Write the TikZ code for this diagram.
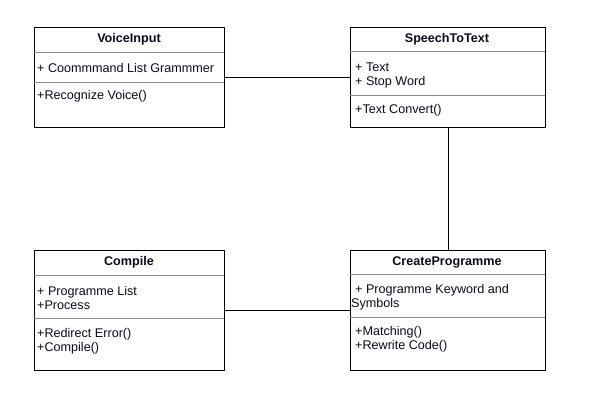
\documentclass[tikz,border=0pt]{standalone}
\usepackage{fontspec}
\setmainfont{Liberation Sans}
\usepackage{xcolor}
\usetikzlibrary{positioning, calc}
\definecolor{sepgray}{RGB}{140, 140, 140}
\definecolor{textink}{RGB}{10, 10, 30}

\tikzset{
    classbox/.style={draw=black, line width=1pt, inner sep=0pt, anchor=north west},
    classname/.style={font=\fontsize{12.6}{14}\selectfont\bfseries, text=textink},
    member/.style={anchor=west, align=left, inner sep=0pt, font=\fontsize{12.6}{14}\selectfont, text=textink},
    sepline/.style={draw=sepgray, line width=0.8pt},
    link/.style={draw=black, line width=0.8pt}
}

\begin{document}
\begin{tikzpicture}[x=1pt, y=-1pt]
    \useasboundingbox (0,0) rectangle (602,400);

    % VoiceInput
    \node[classbox, minimum width=190pt, minimum height=100pt] (voice) at (34,27) {};
    \node[classname] (voicet) at (129,39) {VoiceInput};
    \draw[sepline] (34,52) -- (224,52);
    \draw[sepline] (34,82) -- (224,82);
    \node[member] (voicea) at (37,68) {+ Coommmand List Grammmer};
    \node[member] (voicem) at (37,96) {+Recognize Voice()};

    % SpeechToText
    \node[classbox, minimum width=195pt, minimum height=100pt] (speech) at (350,27) {};
    \node[classname] (speecht) at (447,39) {SpeechToText};
    \draw[sepline] (350,51) -- (545,51);
    \draw[sepline] (350,95) -- (545,95);
    \node[member] (speecha) at (355,75) {+ Text\\+ Stop Word};
    \node[member] (speechm) at (355,110) {+Text Convert()};

    % Compile
    \node[classbox, minimum width=190pt, minimum height=120pt] (compile) at (34,250) {};
    \node[classname] (compilet) at (129,262) {Compile};
    \draw[sepline] (34,275) -- (224,275);
    \draw[sepline] (34,318) -- (224,318);
    \node[member] (compilea) at (37,298) {+ Programme List\\+Process};
    \node[member] (compilem) at (37,341) {+Redirect Error()\\+Compile()};

    % CreateProgramme
    \node[classbox, minimum width=195pt, minimum height=120pt] (create) at (350,250) {};
    \node[classname] (createt) at (447,262) {CreateProgramme};
    \draw[sepline] (350,274) -- (545,274);
    \draw[sepline] (350,317) -- (545,317);
    \node[member] (createa) at (351,297) {\hspace*{4pt}+ Programme Keyword and\\Symbols};
    \node[member] (createm) at (355,339) {+Matching()\\+Rewrite Code()};

    % Associations
    \coordinate (vs) at ($(voice.north east)+(0,50)$);
    \draw[link] (vs) -- (speech.west |- vs);
    \draw[link] (speech.south) -- (create.north);
    \coordinate (cc) at ($(compile.north east)+(0,60)$);
    \draw[link] (cc) -- (create.west |- cc);
\end{tikzpicture}
\end{document}
